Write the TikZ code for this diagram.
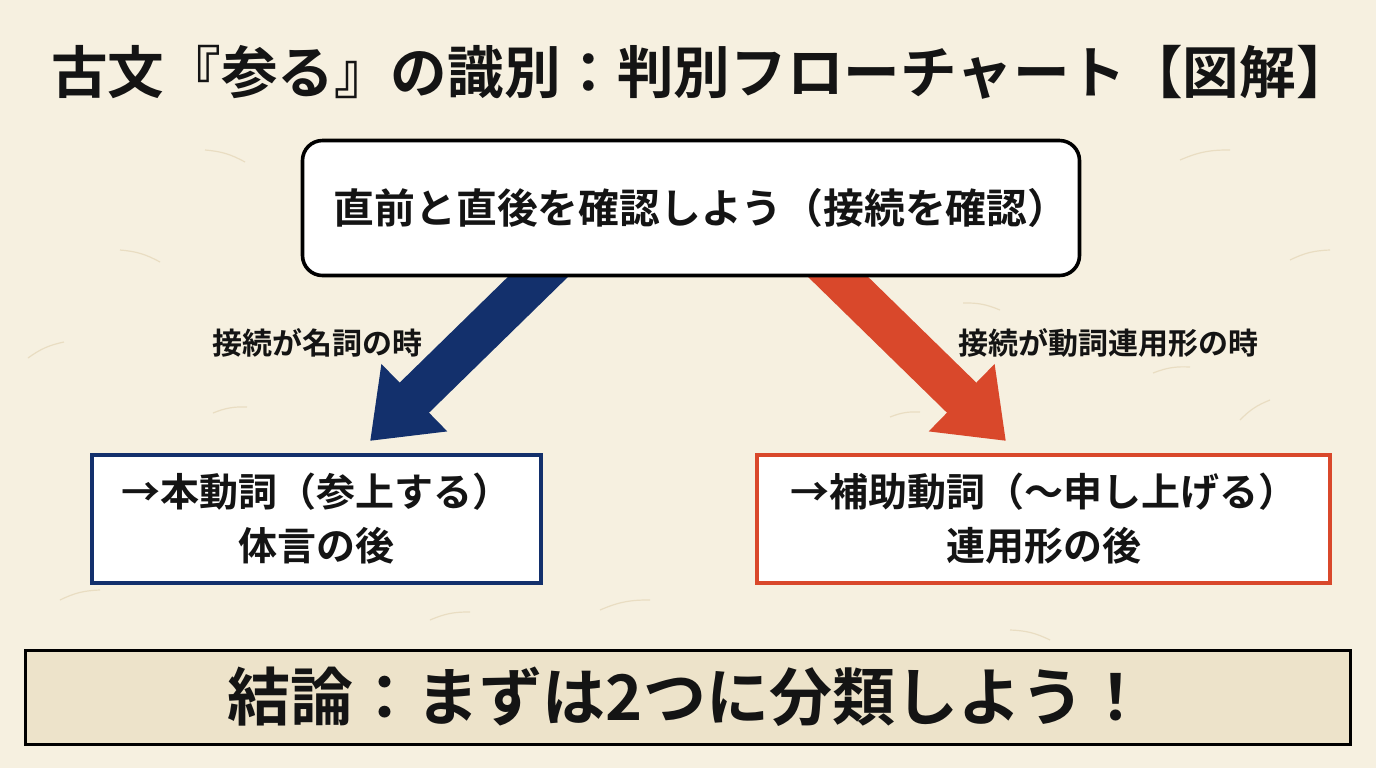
\documentclass[tikz,border=0pt]{standalone}
\usepackage{fontspec}
\setmainfont{Noto Sans CJK JP}[BoldFont={* Bold}]
\usetikzlibrary{arrows.meta,positioning,backgrounds}

\definecolor{paper}{HTML}{F6F0E0}
\definecolor{fiber}{HTML}{E9DDC2}
\definecolor{navy}{HTML}{13306C}
\definecolor{brick}{HTML}{D9482B}
\definecolor{sand}{HTML}{EDE3CA}

\begin{document}
\begin{tikzpicture}[x=0.5pt,y=-0.5pt,
        every node/.style={text=black!92},
        fat/.style={line width=21pt,-{Triangle[width=45pt,length=31pt]}},
        answer/.style={draw,line width=2pt,fill=white,minimum width=#1,minimum height=64pt,
            align=center,font=\bfseries\fontsize{19.5}{27}\selectfont},
        cond/.style={font=\bfseries\fontsize{15}{18}\selectfont}]
                \node[font=\bfseries\fontsize{28.3}{30}\selectfont] (title) at (702,72)
                        {古文『参る』の識別：判別フローチャート【図解】};
                \node[draw,line width=1.8pt,rounded corners=10pt,fill=white,minimum width=388.5pt,
                        minimum height=67.5pt,font=\bfseries\fontsize{20.4}{24}\selectfont] (check) at (691,208)
                        {\hspace*{10pt}直前と直後を確認しよう（接続を確認）};
                \node[answer=224.5pt,draw=navy] (hon) at (316.5,519) {→本動詞（参上する）\\体言の後};
                \node[answer=286.5pt,draw=brick] (hojo) at (1043.5,519) {→補助動詞（〜申し上げる）\\連用形の後};
                \node[cond] (meishi) at (317.5,343) {接続が名詞の時};
                \node[cond] (renyou) at (1108,343) {接続が動詞連用形の時};
                \node[draw,line width=1.5pt,fill=sand,minimum width=662.5pt,minimum height=47pt,
                        font=\bfseries\fontsize{31.5}{36}\selectfont] (kekka) at (687.5,697)
                        {結論：まずは2つに分類しよう！};
                \begin{scope}[on background layer]
                        \fill[paper] (0,0) rectangle (1376,768);
                        \foreach \a/\b/\c/\d in {205/150/245/162, 1180/160/1230/150, 28/358/64/342,
                                213/413/247/407, 963/303/1000/310, 1153/373/1190/367, 1240/420/1270/400,
                                890/417/920/412, 120/250/160/262, 600/610/650/600, 1290/260/1330/250,
                                60/600/100/590, 1010/630/1050/640, 430/620/470/612}
                                \draw[fiber,line width=0.6pt] (\a,\b) to[bend left=12] (\c,\d);
                        \draw[fat,navy] ([shift={(-133,-20)}]check.south) -- ([shift={(53.5,-12)}]hon.north);
                        \draw[fat,brick] ([shift={(127,-20)}]check.south) -- ([shift={(-37.5,-12)}]hojo.north);
                \end{scope}
\end{tikzpicture}
\end{document}
